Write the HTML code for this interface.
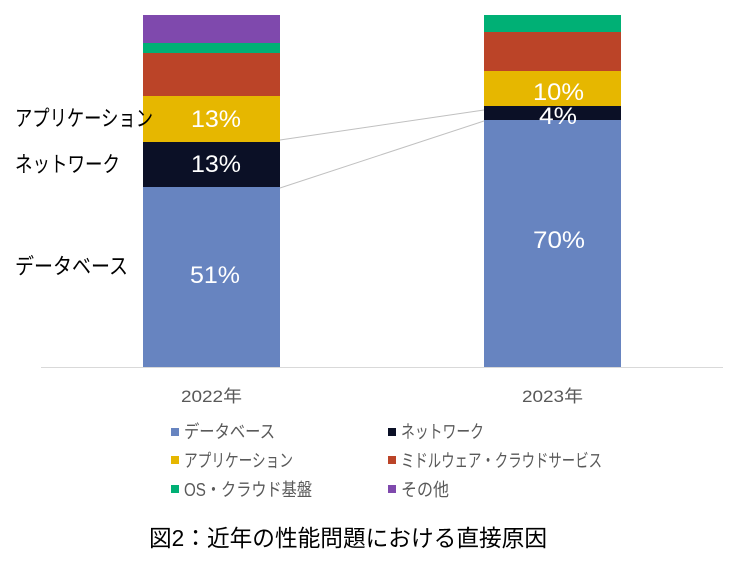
<!DOCTYPE html>
<html>
<head>
<meta charset="utf-8">
<style>
  html,body{margin:0;padding:0;background:#fff;}
  svg{display:block;}
  text{font-family:"Liberation Sans","Noto Sans CJK JP",sans-serif;}
</style>
</head>
<body>
<svg width="737" height="567" viewBox="0 0 737 567" xmlns="http://www.w3.org/2000/svg">
  <rect width="737" height="567" fill="#fff"/>

  <!-- Bar 2022 -->
  <rect x="143" y="15" width="137" height="28" fill="#7f49ad"/>
  <rect x="143" y="43" width="137" height="10" fill="#00b075"/>
  <rect x="143" y="53" width="137" height="43" fill="#bb4428"/>
  <rect x="143" y="96" width="137" height="46" fill="#e6b700"/>
  <rect x="143" y="142" width="137" height="45" fill="#0b1026"/>
  <rect x="143" y="187" width="137" height="180" fill="#6784c0"/>

  <!-- Bar 2023 -->
  <rect x="484" y="15" width="137" height="17" fill="#00b075"/>
  <rect x="484" y="32" width="137" height="39" fill="#bb4428"/>
  <rect x="484" y="71" width="137" height="35" fill="#e6b700"/>
  <rect x="484" y="106" width="137" height="14" fill="#0b1026"/>
  <rect x="484" y="120" width="137" height="247" fill="#6784c0"/>

  <!-- connector lines -->
  <line x1="280" y1="140" x2="484" y2="110" stroke="#c0c0c0" stroke-width="1"/>
  <line x1="280" y1="188" x2="484" y2="121" stroke="#c0c0c0" stroke-width="1"/>

  <!-- axis -->
  <line x1="41" y1="367.5" x2="723" y2="367.5" stroke="#d9d9d9" stroke-width="1"/>

  <!-- left labels -->
  <text x="15" y="126" font-size="22" fill="#000" textLength="138" lengthAdjust="spacingAndGlyphs">アプリケーション</text>
  <text x="15" y="172" font-size="22" fill="#000" textLength="105" lengthAdjust="spacingAndGlyphs">ネットワーク</text>
  <text x="15" y="274" font-size="22" fill="#000" textLength="113" lengthAdjust="spacingAndGlyphs">データベース</text>

  <!-- data labels -->
  <text x="216" y="127" font-size="24" fill="#fff" text-anchor="middle" textLength="50" lengthAdjust="spacingAndGlyphs">13%</text>
  <text x="216" y="172" font-size="24" fill="#fff" text-anchor="middle" textLength="50" lengthAdjust="spacingAndGlyphs">13%</text>
  <text x="215" y="283" font-size="24" fill="#fff" text-anchor="middle" textLength="50" lengthAdjust="spacingAndGlyphs">51%</text>
  <text x="558.5" y="100" font-size="24" fill="#fff" text-anchor="middle" textLength="51" lengthAdjust="spacingAndGlyphs">10%</text>
  <text x="558" y="124" font-size="24" fill="#fff" text-anchor="middle" textLength="38" lengthAdjust="spacingAndGlyphs">4%</text>
  <text x="559" y="248" font-size="24" fill="#fff" text-anchor="middle" textLength="52" lengthAdjust="spacingAndGlyphs">70%</text>

  <!-- category labels -->
  <text x="181" y="402" font-size="17" fill="#595959" textLength="61" lengthAdjust="spacingAndGlyphs">2022年</text>
  <text x="522" y="402" font-size="17" fill="#595959" textLength="61" lengthAdjust="spacingAndGlyphs">2023年</text>

  <!-- legend -->
  <rect x="171" y="428" width="8" height="8" fill="#6784c0"/>
  <text x="184" y="438" font-size="18" fill="#595959" textLength="91" lengthAdjust="spacingAndGlyphs">データベース</text>
  <rect x="171" y="456" width="8" height="8" fill="#e6b700"/>
  <text x="184" y="467" font-size="18" fill="#595959" textLength="109" lengthAdjust="spacingAndGlyphs">アプリケーション</text>
  <rect x="171" y="485" width="8" height="8" fill="#00b075"/>
  <text x="184" y="496" font-size="18" fill="#595959" textLength="128" lengthAdjust="spacingAndGlyphs">OS・クラウド基盤</text>

  <rect x="388" y="428" width="8" height="8" fill="#0b1026"/>
  <text x="401" y="438" font-size="18" fill="#595959" textLength="83" lengthAdjust="spacingAndGlyphs">ネットワーク</text>
  <rect x="388" y="456" width="8" height="8" fill="#bb4428"/>
  <text x="401" y="467" font-size="18" fill="#595959" textLength="201" lengthAdjust="spacingAndGlyphs">ミドルウェア・クラウドサービス</text>
  <rect x="388" y="485" width="8" height="8" fill="#7f49ad"/>
  <text x="401" y="496" font-size="18" fill="#595959" textLength="48" lengthAdjust="spacingAndGlyphs">その他</text>

  <!-- title -->
  <text x="149" y="546" font-size="23" fill="#000" textLength="398" lengthAdjust="spacingAndGlyphs">図2：近年の性能問題における直接原因</text>
</svg>
</body>
</html>
